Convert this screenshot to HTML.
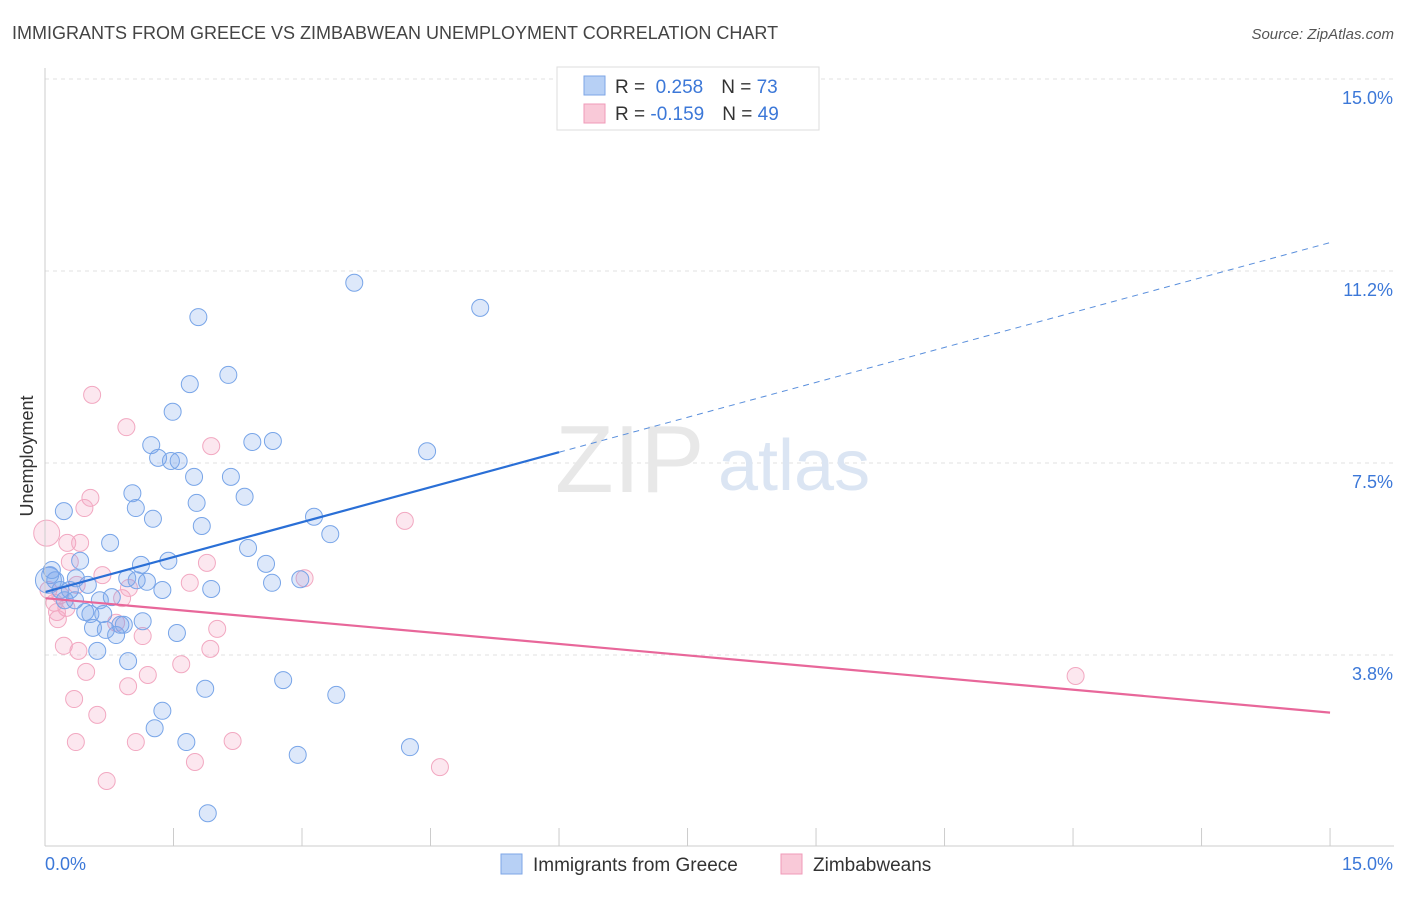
<!DOCTYPE html>
<html><head><meta charset="utf-8"><style>
body{margin:0;background:#fff;font-family:"Liberation Sans",sans-serif;}
svg text{font-family:"Liberation Sans",sans-serif;}
</style></head><body>
<svg id="chart" width="1406" height="892" viewBox="0 0 1406 892" xmlns="http://www.w3.org/2000/svg">
<text x="12" y="39" font-size="18" fill="#444">IMMIGRANTS FROM GREECE VS ZIMBABWEAN UNEMPLOYMENT CORRELATION CHART</text>
<text x="1394" y="39" font-size="15" fill="#555" text-anchor="end" font-style="italic">Source: ZipAtlas.com</text>
<text transform="translate(33,456) rotate(-90)" font-size="18" fill="#333" text-anchor="middle">Unemployment</text>
<g id="grid"></g>
<g><text x="555" y="492" font-size="96" fill="#e8e8e8" font-family="Liberation Serif">ZIP</text><text x="718" y="490" font-size="72" fill="#dbe5f3">atlas</text></g>
<g id="pts"></g>
<g id="trends"></g>
<g id="axes"></g>
<g>
<rect x="557" y="67" width="262" height="63" fill="#fff" stroke="#ddd"/>
<rect x="584" y="76" width="21" height="19" fill="#b7d0f5" stroke="#7ea6e6"/>
<rect x="584" y="104" width="21" height="19" fill="#f9c9d8" stroke="#f09ab8"/>
<text x="615" y="93" font-size="19" fill="#333">R = <tspan fill="#3c78d8">&#160;0.258</tspan><tspan dx="18">N = </tspan><tspan fill="#3c78d8">73</tspan></text>
<text x="615" y="120" font-size="19" fill="#333">R = <tspan fill="#3c78d8">-0.159</tspan><tspan dx="18">N = </tspan><tspan fill="#3c78d8">49</tspan></text>
</g>
<g>
<rect x="501" y="854" width="21" height="20" fill="#b7d0f5" stroke="#7ea6e6"/>
<text x="533" y="871" font-size="19" fill="#333">Immigrants from Greece</text>
<rect x="781" y="854" width="21" height="20" fill="#f9c9d8" stroke="#f09ab8"/>
<text x="813" y="871" font-size="19" fill="#333">Zimbabweans</text>
</g>
</svg>
<script>
const xTicks=[0,1.5,3,4.5,6,7.5,9,10.5,12,13.5,15];
const yGrid=[15,11.25,7.5,3.75];
const yTickLabels=["15.0%","11.2%","7.5%","3.8%"];
const blueX=[3.61,5.08,1.79,2.14,1.69,1.49,1.24,2.42,2.66,4.46,1.32,1.47,1.56,1.74,2.17,1.02,2.33,1.77,1.06,0.22,1.26,3.14,1.83,3.33,0.76,2.37,0.41,1.44,1.12,2.58,0.36,0.96,1.07,1.19,2.65,2.98,1.37,1.94,0.06,0.12,0.18,0.29,0.50,0.23,0.35,0.64,0.78,0.47,0.53,0.68,1.14,0.88,0.56,0.71,0.83,0.92,1.54,0.61,0.97,2.78,1.87,3.40,1.37,1.28,1.65,4.26,2.95,1.90,0.04,0.08];
const blueY=[11.02,10.53,10.35,9.22,9.04,8.50,7.85,7.91,7.93,7.73,7.60,7.54,7.54,7.23,7.23,6.91,6.84,6.72,6.62,6.56,6.41,6.45,6.27,6.11,5.94,5.84,5.59,5.59,5.51,5.53,5.25,5.25,5.21,5.18,5.16,5.23,5.02,5.04,5.31,5.21,5.02,5.02,5.12,4.82,4.82,4.82,4.88,4.59,4.55,4.55,4.41,4.34,4.28,4.24,4.14,4.34,4.18,3.83,3.63,3.26,3.09,2.97,2.66,2.32,2.05,1.95,1.80,0.66,5.21,5.41];
const pinkX=[0.55,0.95,1.94,4.20,0.53,0.46,0.26,0.41,0.02,0.29,0.67,1.69,1.89,3.03,0.98,0.90,0.37,0.18,0.11,0.25,0.04,0.14,0.15,0.83,2.01,1.14,0.22,0.39,1.93,1.59,1.20,0.48,0.97,0.34,0.61,12.03,0.36,1.06,2.19,1.75,4.61,0.72];
const pinkY=[8.83,8.20,7.83,6.37,6.82,6.62,5.94,5.94,6.13,5.57,5.31,5.16,5.55,5.25,5.06,4.86,5.12,4.92,4.77,4.67,5.02,4.59,4.45,4.38,4.26,4.12,3.93,3.83,3.87,3.57,3.36,3.42,3.14,2.89,2.58,3.34,2.05,2.05,2.07,1.66,1.56,1.29];
const blueTrend=[4.98,0.455];
const pinkTrend=[4.86,-0.149];
const NS="http://www.w3.org/2000/svg";
const sx=v=>45+v*85.67, sy=v=>847-v*51.2;
function mk(tag,attrs,parent){const e=document.createElementNS(NS,tag);for(const k in attrs)e.setAttribute(k,attrs[k]);parent.appendChild(e);return e;}
const grid=document.getElementById('grid'),axes=document.getElementById('axes');
yGrid.forEach((v,i)=>{
 const l=mk('line',{x1:45,x2:1394,y1:sy(v),y2:sy(v),stroke:'#e2e2e2','stroke-dasharray':'4,4'},grid);
 
 
 const t=mk('text',{x:1393,y:sy(v)+25,'font-size':18,fill:'#3c78d8','text-anchor':'end'},axes);
 t.textContent=yTickLabels[i];
 
 
});
const ax=mk('line',{x1:45,x2:1394,y1:846,y2:846,stroke:'#ccc'},axes);


const ay=mk('line',{x1:45,x2:45,y1:68,y2:846,stroke:'#ccc'},axes);


xTicks.forEach(v=>{
 const t=mk('line',{x1:sx(v),x2:sx(v),y1:828,y2:846,stroke:'#ccc'},axes);
 
 
});
const xl=mk('text',{x:45,y:870,'font-size':18,fill:'#3c78d8'},axes);xl.textContent='0.0%';


const xr=mk('text',{x:1393,y:870,'font-size':18,fill:'#3c78d8','text-anchor':'end'},axes);xr.textContent='15.0%';


const pts=document.getElementById('pts');
pinkX.forEach((x,i)=>{
 const c=mk('circle',{cx:sx(x),cy:sy(pinkY[i]),r:(x<0.05&&pinkY[i]>6)?13:8.5,fill:'rgba(244,160,190,0.25)',stroke:'#f2a8c1','stroke-width':1},pts);
 
 
});
blueX.forEach((x,i)=>{
 const c=mk('circle',{cx:sx(x),cy:sy(blueY[i]),r:(x<0.05)?13:8.5,fill:'rgba(120,165,235,0.25)',stroke:'#78a5e8','stroke-width':1},pts);
 
 
});
const tr=document.getElementById('trends');
const b1=mk('line',{x1:sx(0),y1:sy(blueTrend[0]),x2:sx(6),y2:sy(blueTrend[0]+6*blueTrend[1]),stroke:'#2a6fd6','stroke-width':2.2},tr);


const b2=mk('line',{x1:sx(6),y1:sy(blueTrend[0]+6*blueTrend[1]),x2:sx(15),y2:sy(blueTrend[0]+15*blueTrend[1]),stroke:'#5a8fdc','stroke-width':1,'stroke-dasharray':'6,5'},tr);


const p1=mk('line',{x1:sx(0),y1:sy(pinkTrend[0]),x2:sx(15),y2:sy(pinkTrend[0]+15*pinkTrend[1]),stroke:'#e8679a','stroke-width':2.2},tr);


</script>
</body></html>
